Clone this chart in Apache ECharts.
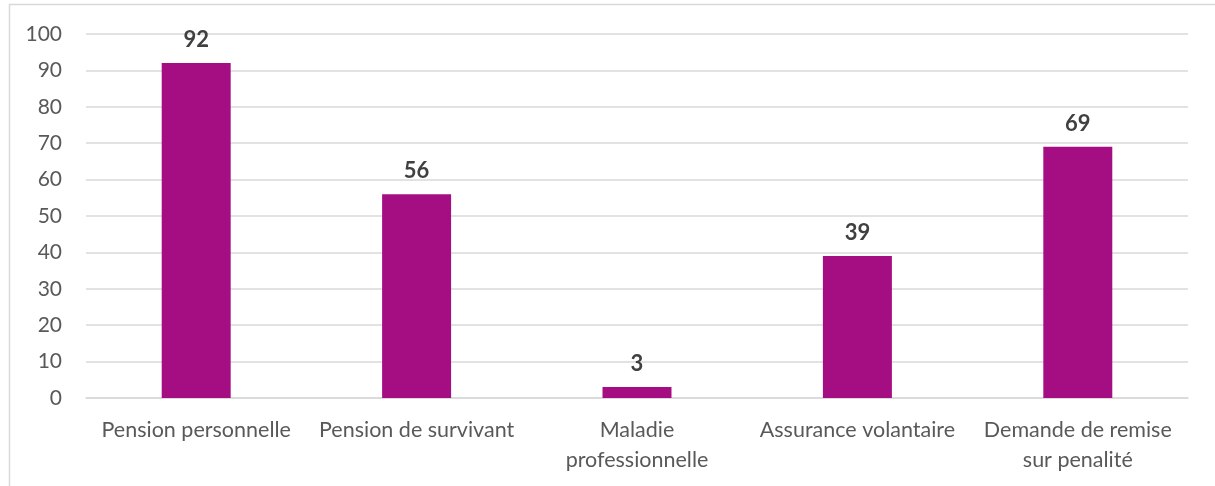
<!DOCTYPE html>
<html><head><meta charset="utf-8">
<script src="https://cdn.jsdelivr.net/npm/echarts@6/dist/echarts.min.js"></script>
<style>html,body{margin:0;padding:0;background:#fff}#c{width:1215px;height:486px}</style>
</head><body><div id="c"></div>
<script>
const categories = ["Pension personnelle","Pension de survivant","Maladie\nprofessionnelle","Assurance volantaire","Demande de remise\nsur penalité"];
const values = [92, 56, 3, 39, 69];
const yTicks = {min: 0, max: 100, interval: 10};

const chart = echarts.init(document.getElementById('c'));
chart.setOption({
  animation: false,
  graphic: [{
    type: 'rect', shape: {x: 9.5, y: 4.5, width: 1220, height: 500},
    style: {fill: 'none', stroke: '#d9d9d9', lineWidth: 1.5}, z: -1
  }],
  grid: {left: 86, right: 27, top: 34, bottom: 88},
  xAxis: {
    type: 'category', data: categories,
    axisLine: {lineStyle: {color: '#d9d9d9', width: 1.5}},
    axisTick: {show: false},
    axisLabel: {color: '#595959', fontSize: 21.5, fontFamily: 'Lato, "Open Sans", sans-serif', margin: 17, lineHeight: 30, interval: 0}
  },
  yAxis: {
    type: 'value', min: yTicks.min, max: yTicks.max, interval: yTicks.interval,
    axisLine: {show: false}, axisTick: {show: false},
    axisLabel: {color: '#595959', fontSize: 21, fontFamily: 'Lato, "Open Sans", sans-serif', margin: 24},
    splitLine: {lineStyle: {color: '#d9d9d9', width: 1.5}}
  },
  series: [{
    type: 'bar', data: values, barWidth: '31.3%',
    itemStyle: {color: '#a50e82'},
    label: {show: true, position: 'top', distance: 12, color: '#404040', fontSize: 22, fontWeight: 'bold', fontFamily: 'Lato, "Open Sans", sans-serif'}
  }]
});
</script></body></html>
